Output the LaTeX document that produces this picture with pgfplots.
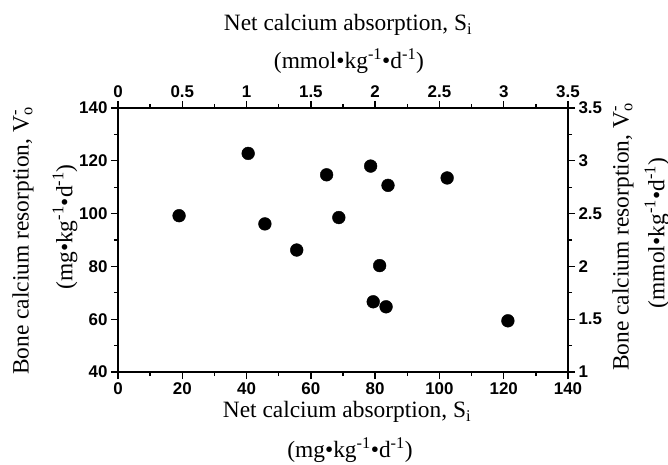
\documentclass[border=0pt]{standalone}
\usepackage{fontspec}
\setmainfont{Liberation Serif}
\setsansfont{Liberation Sans}
\usepackage{graphicx}
\usepackage{pgfplots}
\pgfplotsset{compat=1.18}
\newcommand{\lab}{\fontsize{23.5}{26}\selectfont}
\newcommand{\tlab}{\fontsize{17}{20}\selectfont\sffamily\bfseries}
\begin{document}
\begin{tikzpicture}
\pgfplotsset{
  common/.style={
    scale only axis, width=450bp, height=264bp,
    tick align=outside,
    major tick length=7bp, minor tick length=4bp,
    axis line style={line width=1.8bp},
    every tick/.style={line width=1.3bp, black},
    xticklabel style={font=\tlab},
    yticklabel style={font=\tlab},
    /pgf/number format/assume math mode=true,
    minor x tick num=1, minor y tick num=1,
    clip=false,
  }
}
\begin{axis}[common,
  xmin=0, xmax=140, ymin=40, ymax=140,
  xtick={0,20,...,140}, ytick={40,60,...,140},
  xtick pos=bottom, ytick pos=left,
]
\addplot[only marks, mark=*, mark size=6.4bp, black] coordinates {
  (19.0,99.2) (40.5,122.8) (45.7,96.1) (55.6,86.2) (64.9,114.7)
  (68.7,98.5) (78.6,118.0) (84.0,110.7) (102.4,113.5) (81.4,80.3)
  (79.4,66.6) (83.4,64.7) (121.3,59.4)
};
\coordinate (SW) at (rel axis cs:0,0);
\coordinate (NE) at (rel axis cs:1,1);
\coordinate (L) at (rel axis cs:0,0.5);
\coordinate (R) at (rel axis cs:1,0.5);
\coordinate (B) at (rel axis cs:0.5,0);
\coordinate (T) at (rel axis cs:0.5,1);
\end{axis}
\begin{axis}[common,
  xmin=0, xmax=3.5, ymin=1, ymax=3.5,
  xtick={0,0.5,...,3.5}, ytick={1,1.5,...,3.5},
  xticklabels={0,0.5,1,1.5,2,2.5,3,3.5},
  yticklabels={1,1.5,2,2.5,3,3.5},
  xtick pos=top, ytick pos=right,
]
\end{axis}
\node[font=\lab] at ([shift={(5bp,83bp)}]T) {Net calcium absorption, S\textsubscript{i}};
\node[font=\lab] at ([shift={(6bp,47bp)}]T) {(mmol•kg\textsuperscript{-1}•d\textsuperscript{-1})};
\node[font=\lab] at ([shift={(4bp,-40bp)}]B) {Net calcium absorption, S\textsubscript{i}};
\node[font=\lab] at ([shift={(7bp,-78bp)}]B) {(mg•kg\textsuperscript{-1}•d\textsuperscript{-1})};
\node[font=\lab, rotate=90] at ([shift={(-95bp,-1bp)}]L) {Bone calcium resorption, V\rlap{\textsuperscript{-}}\textsubscript{o}};
\node[font=\lab, rotate=90] at ([shift={(-53bp,13bp)}]L) {(mg•kg\textsuperscript{-1}•d\textsuperscript{-1})};
\node[font=\lab, rotate=90] at ([shift={(55bp,3bp)}]R) {Bone calcium resorption, V\rlap{\textsuperscript{-}}\textsubscript{o}};
\node[font=\lab, rotate=90] at ([shift={(89bp,7bp)}]R) {(mmol•kg\textsuperscript{-1}•d\textsuperscript{-1})};
\pgfresetboundingbox
\path ([shift={(-118bp,-93bp)}]SW) rectangle ([shift={(100bp,108bp)}]NE);
\end{tikzpicture}
\end{document}
